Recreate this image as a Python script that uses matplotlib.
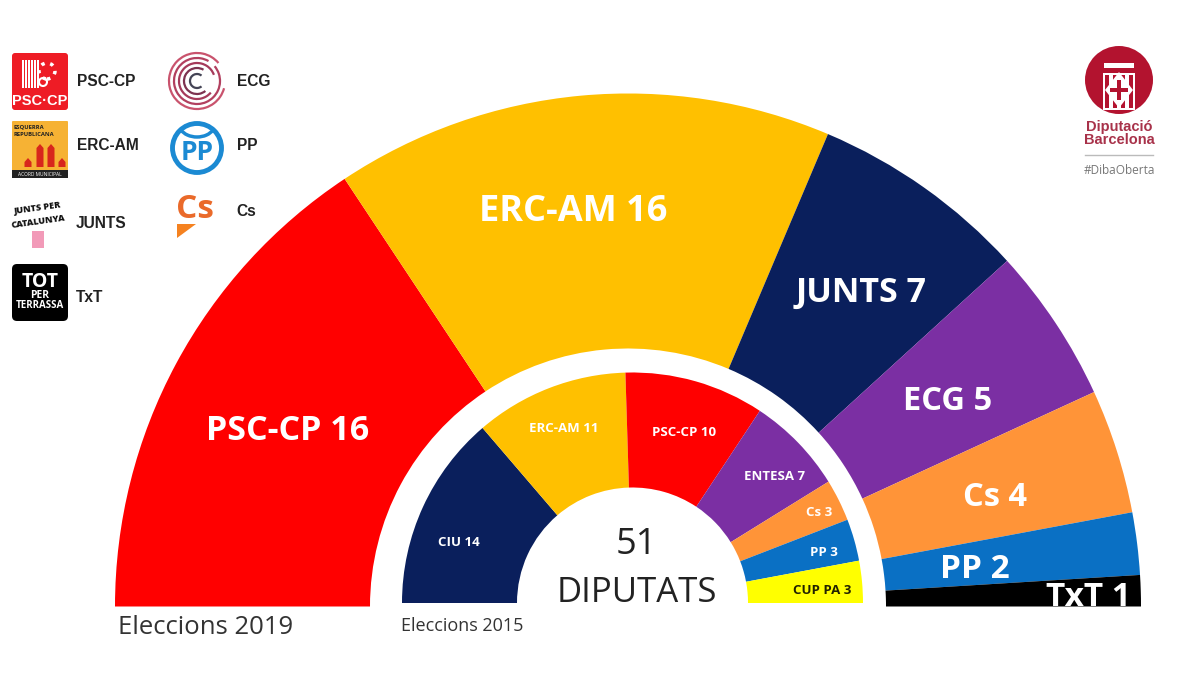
import matplotlib
matplotlib.use("Agg")
import matplotlib.pyplot as plt
from matplotlib.patches import Arc, Circle, FancyBboxPatch, Polygon, Rectangle

plt.rcParams['font.family'] = ['Open Sans', 'DejaVu Sans']

# Dades
partits_2019 = ['PSC-CP', 'ERC-AM', 'JUNTS', 'ECG', 'Cs', 'PP', 'TxT']
seients_2019 = [16, 16, 7, 5, 4, 2, 1]
colors_2019 = ['#ff0000', '#ffc000', '#0a1f5c', '#7b2fa3', '#ff9438', '#0a70c4', '#000000']

partits_2015 = ['CIU', 'ERC-AM', 'PSC-CP', 'ENTESA', 'Cs', 'PP', 'CUP PA']
seients_2015 = [14, 11, 10, 7, 3, 3, 3]
colors_2015 = ['#0a1f5c', '#ffc000', '#ff0000', '#7b2fa3', '#ff9438', '#0a70c4', '#ffff00']

# Posicions de les etiquetes (px)
pos_2019 = [(288, 431), (573, 212), (861, 293), (948, 402), (995, 497), (975, 569), (1088, 597)]
mida_2019 = [24.5, 26, 24.5, 23.5, 23.5, 24, 24]
pos_2015 = [(459, 543), (564, 429), (684, 432), (774, 476), (819, 513), (824, 553), (822, 590)]
mida_2015 = [9.5, 9.5, 9.5, 9.5, 9.5, 9.5, 9.5]

llegenda = ['PSC-CP', 'ERC-AM', 'JUNTS', 'TxT', 'ECG', 'PP', 'Cs']
pos_llegenda = [(77, 81), (77, 145), (76, 224), (76, 298), (237, 81), (237, 145), (236, 212)]

H = 675


def Y(y):
    return H - y


fig = plt.figure(figsize=(12, 6.75), dpi=100)
ax = fig.add_axes([0, 0, 1, 1])


def semicercle(valors, colors, centre, radi, gruix):
    ax.pie(valors + [sum(valors)], colors=colors + ['none'], radius=radi, center=centre,
           startangle=180, counterclock=False,
           wedgeprops={'width': gruix, 'linewidth': 0}, frame=True)


semicercle(seients_2019, colors_2019, (628, Y(606.5)), 513, 255)
semicercle(seients_2015, colors_2015, (632.5, Y(603)), 230.5, 115)

ax.set_xlim(0, 1200)
ax.set_ylim(0, H)
ax.set_aspect('equal')
ax.axis('off')

# Etiquetes
for nom, n, (x, y), s in zip(partits_2019, seients_2019, pos_2019, mida_2019):
    ax.text(x, Y(y), f'{nom} {n}', color='white', fontsize=s, fontweight='bold',
            ha='center', va='center')
for nom, n, (x, y), s in zip(partits_2015, seients_2015, pos_2015, mida_2015):
    c = '#222200' if nom == 'CUP PA' else 'white'
    ax.text(x, Y(y), f'{nom} {n}', color=c, fontsize=s, fontweight='bold',
            ha='center', va='center')

ax.text(636, Y(545), '51', fontsize=26, color='#222222', ha='center', va='center')
ax.text(637, Y(593), 'DIPUTATS', fontsize=25, color='#222222', ha='center', va='center')
ax.text(118, Y(627), 'Eleccions 2019', fontsize=18.5, color='#333333', va='center')
ax.text(401, Y(626), 'Eleccions 2015', fontsize=13, color='#333333', va='center')

# Llegenda
for nom, (x, y) in zip(llegenda, pos_llegenda):
    ax.text(x, Y(y), nom, fontsize=11.2, color='#222222', fontweight='bold', va='center',
            family='Liberation Sans')


def quadrat(x, y, w, h, color, pad=3):
    ax.add_patch(FancyBboxPatch((x + pad, Y(y + h) + pad), w - 2 * pad, h - 2 * pad,
                                boxstyle=f'round,pad={pad}', fc=color, ec='none'))


# Logo PSC
quadrat(12, 53, 56, 57, '#ee1c25')
for i in range(6):
    ax.add_patch(Rectangle((22 + i * 3, Y(88)), 1.6, 28, fc='white', ec='none'))
ax.add_patch(Circle((47, Y(71)), 8, fc='none', ec='white', lw=2.5, ls=':'))
ax.add_patch(Circle((43, Y(82)), 4, fc='none', ec='white', lw=1.5))
ax.text(40, Y(101), 'PSC·CP', color='white', fontsize=10.5, fontweight='bold', ha='center',
        va='center', family='Liberation Sans')

# Logo ERC
quadrat(12, 121, 56, 57, '#f6b234', pad=1)
ax.add_patch(Rectangle((12, Y(178)), 56, 8, fc='#222222', ec='none'))
ax.text(14, Y(127), 'ESQUERRA', fontsize=4.2, fontweight='bold', color='#222222', va='center')
ax.text(14, Y(134), 'REPUBLICANA', fontsize=4.2, fontweight='bold', color='#222222', va='center')
ax.text(40, Y(174), 'ACORD MUNICIPAL', fontsize=3.5, color='white', ha='center', va='center')
for x, top in [(28, 158), (40, 144), (51, 144), (62, 158)]:
    ax.add_patch(Polygon([(x - 3.5, Y(167)), (x - 3.5, Y(top + 4)), (x, Y(top)), (x + 3.5, Y(top + 4)),
                          (x + 3.5, Y(167))], fc='#d8261c', ec='none'))

# Logo Junts
ax.text(38, Y(208), 'JUNTS PER', fontsize=6.5, fontweight=800, color='#111111',
        rotation=8, ha='center', va='center')
ax.text(38, Y(222), 'CATALUNYA', fontsize=6.5, fontweight=800, color='#111111',
        rotation=8, ha='center', va='center')
ax.add_patch(Rectangle((32, Y(248)), 12, 17, fc='#f29ab8', ec='none'))

# Logo TxT
quadrat(12, 264, 56, 57, '#000000', pad=5)
ax.text(40, Y(282), 'TOT', color='white', fontsize=14, fontweight='bold', ha='center', va='center')
ax.text(40, Y(296), 'PER', color='white', fontsize=7.5, fontweight='bold', ha='center', va='center')
ax.text(40, Y(305), 'TERRASSA', color='white', fontsize=7, fontweight='bold', ha='center', va='center')

# Logo ECG
for r, a1, a2, c in [(28, 40, 345, '#c9536d'), (23, 60, 400, '#b2405f'),
                     (18, 20, 320, '#a53a5a'), (13, 60, 310, '#7d3350')]:
    ax.add_patch(Arc((197, Y(81)), 2 * r, 2 * r, theta1=a1, theta2=a2, color=c, lw=1.6))
ax.add_patch(Arc((197, Y(81)), 14, 14, theta1=50, theta2=310, color='#444455', lw=1.6))

# Logo PP
ax.add_patch(Circle((197, Y(148)), 24.5, fc='white', ec='#1b8ad3', lw=3.5))
ax.text(197, Y(153), 'PP', color='#1b8ad3', fontsize=19, fontweight='bold', ha='center', va='center')
ax.add_patch(Arc((197, Y(124)), 36, 26, theta1=200, theta2=340, color='#1b8ad3', lw=2.5))

# Logo Cs
ax.text(195, Y(210), 'Cs', color='#ea6a2a', fontsize=24, fontweight='bold', ha='center', va='center')
ax.add_patch(Polygon([(177, Y(224)), (196, Y(224)), (177, Y(238))], fc='#f58220', ec='none'))

# Logo Diputacio
ax.add_patch(Circle((1119, Y(80)), 34, fc='#b3132f', ec='none'))
ax.add_patch(Rectangle((1103, Y(110)), 32, 37, fc='white', ec='none'))
for i in range(4):
    ax.add_patch(Rectangle((1105 + i * 8, Y(108)), 3.5, 33, fc='#b3132f', ec='none'))
ax.add_patch(Polygon([(1119, Y(72)), (1133, Y(90)), (1119, Y(108)), (1105, Y(90))], fc='white', ec='none'))
ax.add_patch(Rectangle((1117, Y(100)), 4, 20, fc='#b3132f', ec='none'))
ax.add_patch(Rectangle((1110, Y(92)), 18, 4, fc='#b3132f', ec='none'))
ax.add_patch(Rectangle((1104, Y(68)), 30, 5, fc='white', ec='none'))
ax.text(1119, Y(127), 'Diputació', color='#a8324a', fontsize=10.5, fontweight='bold', ha='center',
        va='center', family='Liberation Sans')
ax.text(1119, Y(140), 'Barcelona', color='#a8324a', fontsize=10.5, fontweight='bold', ha='center',
        va='center', family='Liberation Sans')
ax.plot([1085, 1153], [Y(155), Y(155)], color='#bbbbbb', lw=1)
ax.text(1119, Y(170), '#DibaOberta', color='#777777', fontsize=8.5, ha='center', va='center')

fig.savefig('out.png', dpi=100, facecolor='white')
